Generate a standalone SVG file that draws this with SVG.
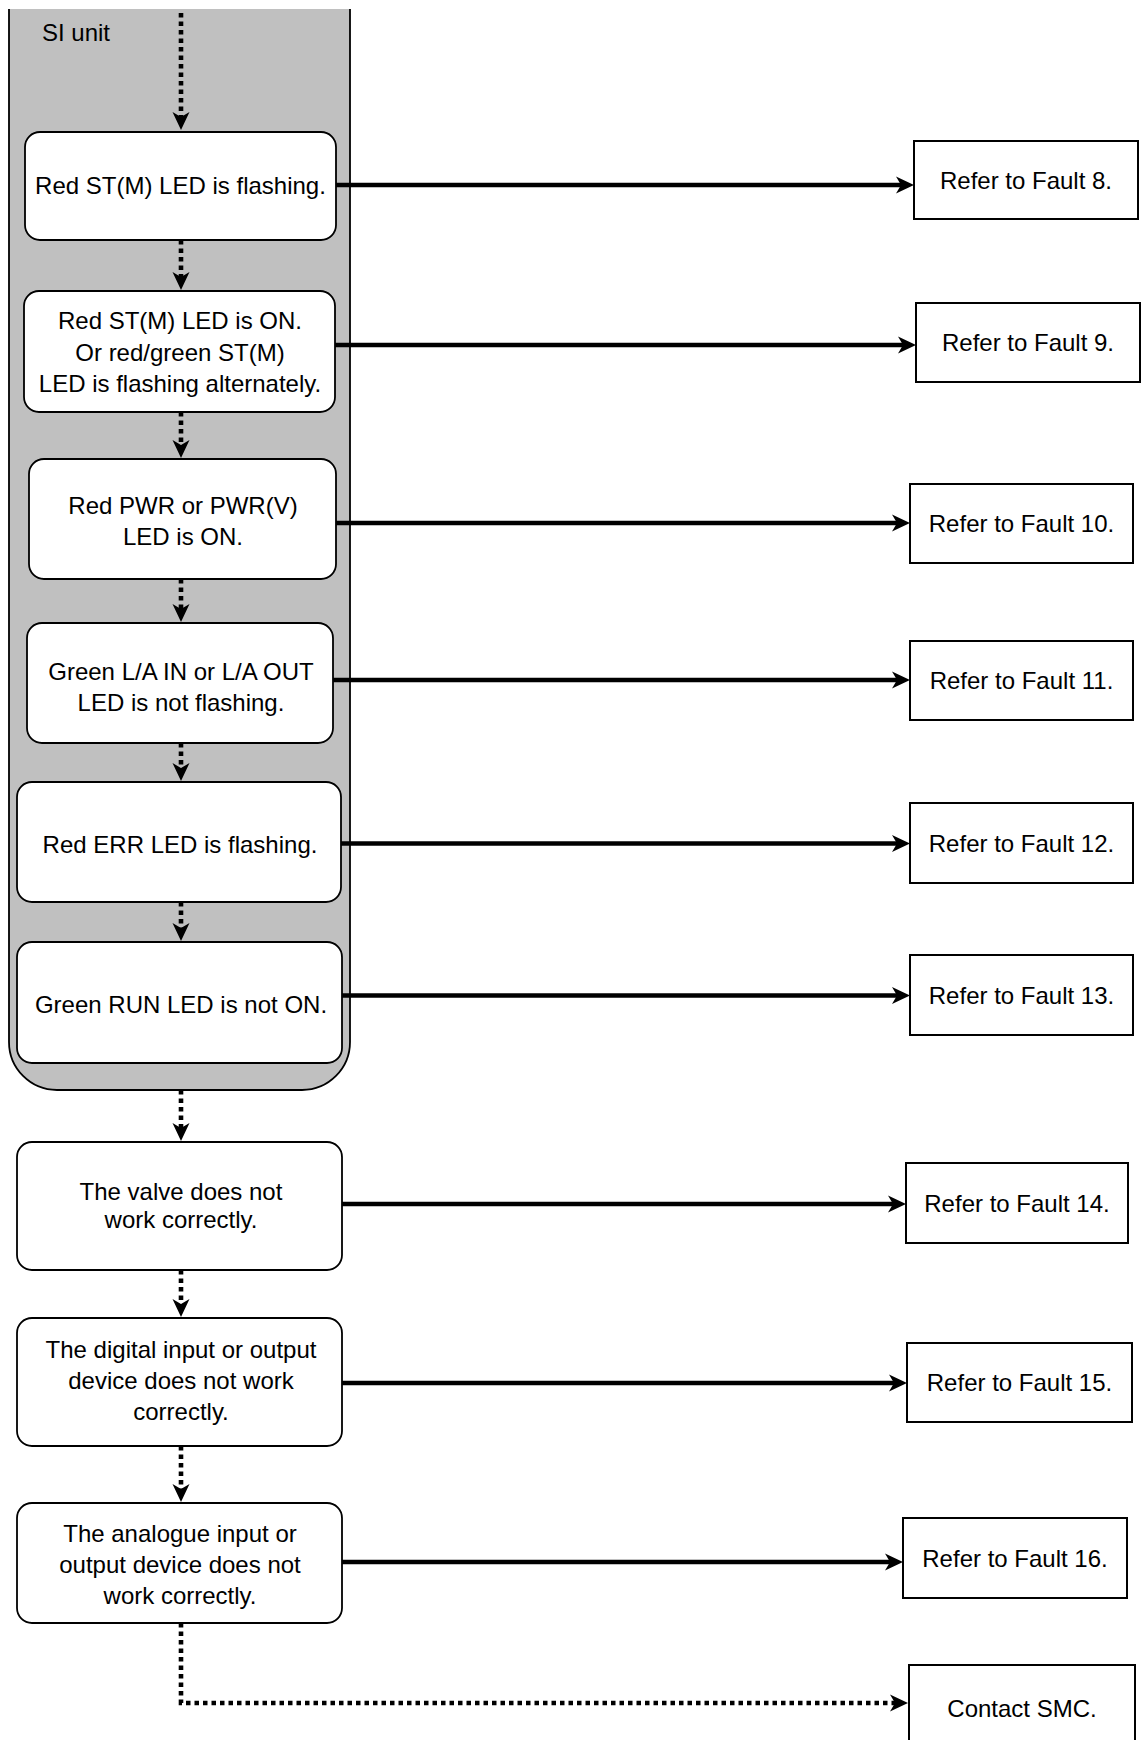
<svg xmlns="http://www.w3.org/2000/svg" width="1142" height="1740" viewBox="0 0 1142 1740">
<style>
text{font-family:"Liberation Sans",Arial,sans-serif;font-size:24px;fill:#000;text-anchor:middle}
.lb{fill:#fff;stroke:#000;stroke-width:1.8}
.rb{fill:#fff;stroke:#000;stroke-width:2}
.sol{fill:none;stroke:#000;stroke-width:4.6;marker-end:url(#arr)}
.dot{fill:none;stroke:#000;stroke-width:4.6;stroke-dasharray:4.5 4;marker-end:url(#arr)}
</style>
<defs>
<marker id="arr" markerUnits="userSpaceOnUse" markerWidth="20" markerHeight="18" viewBox="0 0 20 18" refX="8" refY="9" orient="auto">
<path d="M0,0.5 L18,9 L0,17.5 L5,9 Z" fill="#000"/>
</marker>
</defs>
<rect width="1142" height="1740" fill="#fff"/>
<g id="si-unit">
<path d="M9,9 V1042 A48,48 0 0 0 57,1090 H302 A48,48 0 0 0 350,1042 V9" fill="#c0c0c0" stroke="#000" stroke-width="1.8"/>
<text x="42" y="41" style="text-anchor:start">SI unit</text>
</g>
<g id="connectors">
<path class="dot" d="M181,13 V120"/>
<path class="dot" d="M181,240 V280"/>
<path class="dot" d="M181,412 V448"/>
<path class="dot" d="M181,579 V612"/>
<path class="dot" d="M181,743 V771"/>
<path class="dot" d="M181,902 V931"/>
<path class="dot" d="M181,1090 V1131"/>
<path class="dot" d="M181,1270 V1307"/>
<path class="dot" d="M181,1446 V1492"/>
<path class="dot" d="M181,1623 V1703 H898"/>
<path class="sol" d="M336,185 H904"/>
<path class="sol" d="M335,345 H906"/>
<path class="sol" d="M336,523 H900"/>
<path class="sol" d="M333,680 H900"/>
<path class="sol" d="M341,843.5 H900"/>
<path class="sol" d="M342,995.5 H900"/>
<path class="sol" d="M342,1204 H896"/>
<path class="sol" d="M342,1383 H897"/>
<path class="sol" d="M342,1562 H893"/>
</g>
<g id="n1"><rect class="lb" x="25" y="132" width="311" height="108" rx="15"/><text x="180.5" y="194">Red ST(M) LED is flashing.</text></g>
<g id="n2"><rect class="lb" x="24" y="291" width="311" height="121" rx="15"/><text x="180" y="329">Red ST(M) LED is ON.</text><text x="180" y="360.5">Or red/green ST(M)</text><text x="180" y="392">LED is flashing alternately.</text></g>
<g id="n3"><rect class="lb" x="29" y="459" width="307" height="120" rx="15"/><text x="183" y="514">Red PWR or PWR(V)</text><text x="183" y="545">LED is ON.</text></g>
<g id="n4"><rect class="lb" x="27" y="623" width="306" height="120" rx="15"/><text x="181" y="680">Green L/A IN or L/A OUT</text><text x="181" y="711">LED is not flashing.</text></g>
<g id="n5"><rect class="lb" x="17" y="782" width="324" height="120" rx="15"/><text x="180" y="853">Red ERR LED is flashing.</text></g>
<g id="n6"><rect class="lb" x="17" y="942" width="325" height="121" rx="15"/><text x="181" y="1013">Green RUN LED is not ON.</text></g>
<g id="n7"><rect class="lb" x="17" y="1142" width="325" height="128" rx="15"/><text x="181" y="1200">The valve does not</text><text x="181" y="1228">work correctly.</text></g>
<g id="n8"><rect class="lb" x="17" y="1318" width="325" height="128" rx="15"/><text x="181" y="1358">The digital input or output</text><text x="181" y="1389">device does not work</text><text x="181" y="1420">correctly.</text></g>
<g id="n9"><rect class="lb" x="17" y="1503" width="325" height="120" rx="15"/><text x="180" y="1542">The analogue input or</text><text x="180" y="1573">output device does not</text><text x="180" y="1604">work correctly.</text></g>
<g id="r8"><rect class="rb" x="914" y="141" width="224" height="78"/><text x="1026" y="188.5">Refer to Fault 8.</text></g>
<g id="r9"><rect class="rb" x="916" y="303" width="224" height="79"/><text x="1028" y="351">Refer to Fault 9.</text></g>
<g id="r10"><rect class="rb" x="910" y="484" width="223" height="79"/><text x="1021.5" y="532">Refer to Fault 10.</text></g>
<g id="r11"><rect class="rb" x="910" y="641" width="223" height="79"/><text x="1021.5" y="689">Refer to Fault 11.</text></g>
<g id="r12"><rect class="rb" x="910" y="803" width="223" height="80"/><text x="1021.5" y="851.5">Refer to Fault 12.</text></g>
<g id="r13"><rect class="rb" x="910" y="955" width="223" height="80"/><text x="1021.5" y="1003.5">Refer to Fault 13.</text></g>
<g id="r14"><rect class="rb" x="906" y="1163" width="222" height="80"/><text x="1017" y="1211.5">Refer to Fault 14.</text></g>
<g id="r15"><rect class="rb" x="907" y="1343" width="225" height="79"/><text x="1019.5" y="1391">Refer to Fault 15.</text></g>
<g id="r16"><rect class="rb" x="903" y="1518" width="224" height="80"/><text x="1015" y="1566.5">Refer to Fault 16.</text></g>
<g id="smc"><rect class="rb" x="909" y="1665" width="226" height="90"/><text x="1022" y="1717">Contact SMC.</text></g>
</svg>
